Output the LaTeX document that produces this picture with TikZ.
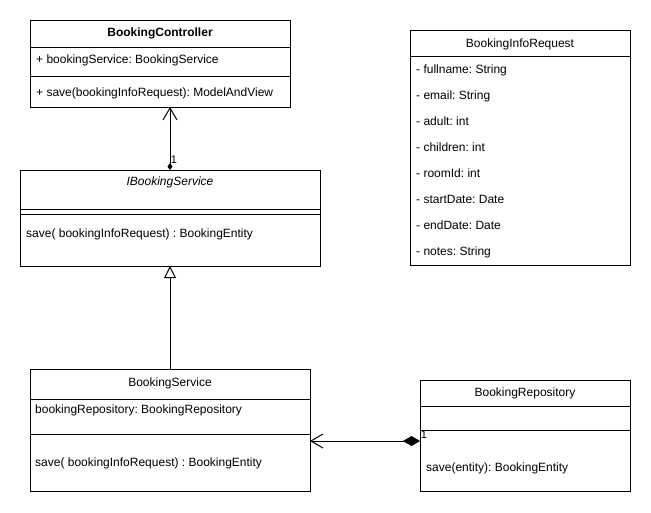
\documentclass[tikz,border=0pt]{standalone}
\usepackage{fontspec}
\setmainfont{Liberation Sans}
\frenchspacing
\usetikzlibrary{arrows.meta, positioning}
\tikzstyle{part}=[draw=black,line width=1pt,rectangle,inner sep=0pt,outer sep=0pt]
\tikzstyle{member}=[anchor=west,inner sep=0pt,text height=9pt,text depth=3pt]
\tikzstyle{title}=[member,anchor=center]
\tikzstyle{open}=[line width=1pt,-{Straight Barb[length=12pt,width=14pt]}]
\tikzstyle{inherit}=[line width=1pt,-{Triangle[open,length=12pt,width=12pt]}]
\tikzstyle{compose}=[line width=1pt,{Diamond[length=17pt,width=10pt]}-{Straight Barb[length=12pt,width=14pt]}]
\tikzstyle{own}=[line width=1pt,{Diamond[length=7pt,width=5pt]}-{Straight Barb[length=12pt,width=14pt]}]
\tikzstyle{mult}=[font=\fontsize{11}{12}\selectfont,inner sep=0pt]

\begin{document}
\begin{tikzpicture}[x=1pt,y=-1pt,font=\fontsize{12}{14}\selectfont]
    \fill[white] (0,0) rectangle (651,512);
    \useasboundingbox (0,0) rectangle (651,512);

    \node[part, anchor=north west, minimum width=260pt, minimum height=27pt] (ctrlHead) at (30,20) {};
    \node[part, minimum width=260pt, minimum height=29pt, below=0pt of ctrlHead] (ctrlAttr) {};
    \node[part, minimum width=260pt, minimum height=31pt, below=0pt of ctrlAttr] (ctrlOps) {};
    \node[title] (ctrlName) at (160,33) {\bfseries BookingController};
    \node[member] (ctrlField) at (36,60) {+ bookingService: BookingService};
    \node[member] (ctrlSave) at (36,93) {+ save(bookingInfoRequest): ModelAndView};

    \node[part, anchor=north west, minimum width=300pt, minimum height=39pt] (isHead) at (20,170) {};
    \node[part, minimum width=300pt, minimum height=5pt, below=0pt of isHead] (isAttr) {};
    \node[part, minimum width=300pt, minimum height=52pt, below=0pt of isAttr] (isOps) {};
    \node[title] (isName) at (170,182) {\itshape IBookingService};
    \node[member] (isSave) at (26,234) {save( bookingInfoRequest) : BookingEntity};

    \node[part, anchor=north west, minimum width=220pt, minimum height=26pt] (reqHead) at (410,30) {};
    \node[part, minimum width=220pt, minimum height=209pt, below=0pt of reqHead] (reqBody) {};
    \node[title] (reqName) at (520,44) {BookingInfoRequest};
    \foreach \f [count=\i from 0] in {fullname: String, email: String, adult: int, children: int,
        roomId: int, startDate: Date, endDate: Date, notes: String}
        \node[member] (req\i) at (416,70+26*\i) {- \f};

    \node[part, anchor=north west, minimum width=280pt, minimum height=30pt] (svcHead) at (30,369) {};
    \node[part, minimum width=280pt, minimum height=35pt, below=0pt of svcHead] (svcAttr) {};
    \node[part, minimum width=280pt, minimum height=57pt, below=0pt of svcAttr] (svcOps) {};
    \node[title] (svcName) at (170,383) {BookingService};
    \node[member] (svcField) at (35,410) {bookingRepository: BookingRepository};
    \node[member] (svcSave) at (35,463) {save( bookingInfoRequest) : BookingEntity};

    \node[part, anchor=north west, minimum width=210pt, minimum height=26pt] (repoHead) at (420,380) {};
    \node[part, minimum width=210pt, minimum height=24pt, below=0pt of repoHead] (repoAttr) {};
    \node[part, minimum width=210pt, minimum height=61pt, below=0pt of repoAttr] (repoOps) {};
    \node[title] (repoName) at (525,393) {BookingRepository};
    \node[member] (repoSave) at (426,468) {save(entity): BookingEntity};

    \coordinate (repoLink) at ([yshift=-11pt]repoOps.north west);

    \draw[own] (isHead.north) -- (isHead.north |- ctrlOps.south);
    \draw[inherit] (svcHead.north) -- (isOps.south);
    \draw[compose] (repoLink) -- (repoLink -| svcOps.east);

    \node[mult] (ownOne) at (174,160) {1};
    \node[mult] (repoOne) at (424,435) {1};
\end{tikzpicture}
\end{document}
